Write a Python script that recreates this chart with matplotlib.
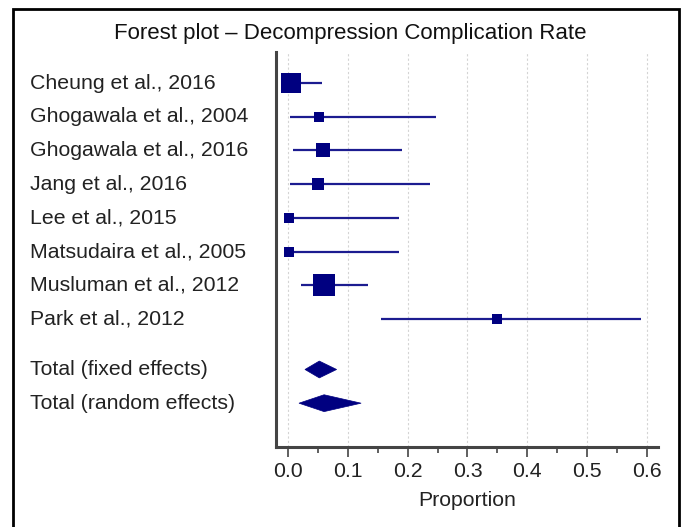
import matplotlib.pyplot as plt
import numpy as np
from matplotlib.patches import Polygon, Rectangle
from matplotlib.transforms import blended_transform_factory
from matplotlib.ticker import MultipleLocator

plt.rcParams['font.family'] = ['Liberation Sans', 'DejaVu Sans']

# study data (proportion, 95% CI, weight %)
studies = ["Cheung et al., 2016", "Ghogawala et al., 2004", "Ghogawala et al., 2016",
           "Jang et al., 2016", "Lee et al., 2015", "Matsudaira et al., 2005",
           "Musluman et al., 2012", "Park et al., 2012"]
est = [0.005, 0.051, 0.058, 0.050, 0.001, 0.001, 0.060, 0.350]
lo = [0.000, 0.003, 0.008, 0.003, 0.000, 0.000, 0.021, 0.155]
hi = [0.056, 0.248, 0.191, 0.238, 0.185, 0.185, 0.133, 0.590]
weights = [27.0, 5.5, 13.2, 8.2, 5.5, 5.5, 29.8, 5.5]

totals = ["Total (fixed effects)", "Total (random effects)"]
tot_est = [0.052, 0.060]
tot_lo = [0.028, 0.018]
tot_hi = [0.081, 0.122]

xticks = [0.0, 0.1, 0.2, 0.3, 0.4, 0.5, 0.6]

navy = '#000080'
line_c = '#1c1c90'
txt_c = '#222222'
fs = 15.3

fig = plt.figure(figsize=(6.82, 5.27), dpi=100)
ax = fig.add_axes([276/682, 80/527, (658-276)/682, (447-52)/527])

ypos = list(range(len(studies)))
tot_y = [len(studies) + 0.5, len(studies) + 1.5]

for i in range(len(studies)):
    ax.plot([lo[i], hi[i]], [ypos[i], ypos[i]], color=line_c, lw=1.6, zorder=3,
            solid_capstyle='butt')
    side_px = 3.85 * np.sqrt(weights[i])
    ax.plot(est[i], ypos[i], marker='s', color=navy, markersize=side_px * 0.72,
            markeredgewidth=0, zorder=4)

for j in range(len(totals)):
    h = 0.25
    poly = Polygon([[tot_lo[j], tot_y[j]], [tot_est[j], tot_y[j] - h],
                    [tot_hi[j], tot_y[j]], [tot_est[j], tot_y[j] + h]],
                   closed=True, facecolor=navy, edgecolor=navy, lw=0.5, zorder=4)
    ax.add_patch(poly)

ax.set_xlim(-0.0205, 0.619)
ax.set_ylim(10.8, -0.92)

ax.xaxis.set_minor_locator(MultipleLocator(0.05))
ax.set_xticks(xticks)
ax.set_xticklabels([f"{t:.1f}" for t in xticks], fontsize=fs, color=txt_c)
ax.tick_params(axis='x', which='major', length=7, width=1.2, color='#444444', pad=4)
ax.tick_params(axis='x', which='minor', length=4, width=1.2, color='#444444')
ax.set_yticks([])
ax.grid(axis='x', which='major', color='#d4d4d4', linestyle=(0, (2, 2)), lw=0.8)
ax.set_axisbelow(True)

for s in ['top', 'right']:
    ax.spines[s].set_visible(False)
for s in ['left', 'bottom']:
    ax.spines[s].set_color('#444444')
    ax.spines[s].set_linewidth(2.2)

ax.set_xlabel("Proportion", fontsize=fs, color=txt_c, labelpad=7)

trans = blended_transform_factory(fig.transFigure, ax.transData)
for i, name in enumerate(studies):
    ax.text(30/682, ypos[i], name, transform=trans, fontsize=fs, color=txt_c,
            ha='left', va='center')
for j, name in enumerate(totals):
    ax.text(30/682, tot_y[j], name, transform=trans, fontsize=fs, color=txt_c,
            ha='left', va='center')

fig.text(350/682, 1 - 34/527, "Forest plot \u2013 Decompression Complication Rate",
         fontsize=16, color='#111111', ha='center', va='center')

# frame around the figure
fig.patches.append(Rectangle((13/682, -0.01), (679-13)/682, 1 - 9/527 + 0.01,
                             transform=fig.transFigure, fill=False,
                             edgecolor='black', lw=2))

fig.savefig("out.png", dpi=100)
